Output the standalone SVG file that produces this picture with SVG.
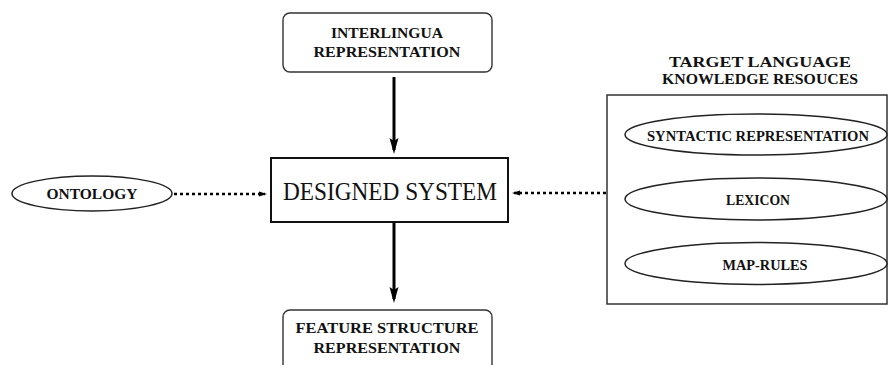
<svg xmlns="http://www.w3.org/2000/svg" width="889" height="365" viewBox="0 0 889 365">
<defs>
<marker id="bigArrow" viewBox="0 0 16 10" markerWidth="16" markerHeight="10" refX="12" refY="5" orient="auto" markerUnits="userSpaceOnUse">
<path d="M0,0.5 L16,5 L0,9.5 L3,5 Z" fill="#000"/>
</marker>
<marker id="smallArrow" viewBox="0 0 8 6" markerWidth="8" markerHeight="6" refX="6" refY="3" orient="auto" markerUnits="userSpaceOnUse">
<path d="M0,0.5 L8,3 L0,5.5 Z" fill="#000"/>
</marker>
<style>
.lbl{font-weight:bold;font-size:15.5px;fill:#111;text-anchor:middle}
.main{font-size:26px;fill:#111;text-anchor:middle}
.rbox{fill:#fff;stroke:#333;stroke-width:1.4}
.ell{fill:#fff;stroke:#222;stroke-width:1.5}
.solid{stroke:#000;stroke-width:3;fill:none;marker-end:url(#bigArrow)}
.dotted{stroke:#000;stroke-width:2.4;stroke-dasharray:3 3;fill:none;marker-end:url(#smallArrow)}
</style>
</defs>
<rect width="889" height="365" fill="#fff"/>
<g id="connectors">
<line class="solid" x1="394" y1="77" x2="394" y2="150"/>
<line class="solid" x1="394" y1="223" x2="394" y2="299"/>
<line class="dotted" x1="174" y1="194" x2="265" y2="194"/>
<line class="dotted" x1="606" y1="193" x2="514" y2="193"/>
</g>
<g font-family="'Liberation Serif', 'DejaVu Serif', serif">
<g id="interlingua">
<rect class="rbox" x="283" y="13" width="209" height="59" rx="7"/>
<text class="lbl" x="387" y="38" textLength="112" lengthAdjust="spacingAndGlyphs">INTERLINGUA</text>
<text class="lbl" x="387" y="57" textLength="147" lengthAdjust="spacingAndGlyphs">REPRESENTATION</text>
</g>
<g id="designed-system">
<rect x="271" y="158" width="237" height="64" fill="#fff" stroke="#111" stroke-width="2"/>
<text class="main" x="390" y="200" textLength="214" lengthAdjust="spacingAndGlyphs">DESIGNED  SYSTEM</text>
</g>
<g id="feature-structure">
<rect class="rbox" x="283" y="310" width="209" height="62" rx="7"/>
<text class="lbl" x="387" y="333" textLength="183" lengthAdjust="spacingAndGlyphs">FEATURE  STRUCTURE</text>
<text class="lbl" x="387" y="353" textLength="147" lengthAdjust="spacingAndGlyphs">REPRESENTATION</text>
</g>
<g id="ontology">
<ellipse class="ell" cx="92" cy="193.5" rx="80" ry="17.5"/>
<text class="lbl" x="92" y="199" textLength="91" lengthAdjust="spacingAndGlyphs">ONTOLOGY</text>
</g>
<g id="target-language">
<text class="lbl" x="760" y="67" textLength="182" lengthAdjust="spacingAndGlyphs">TARGET  LANGUAGE</text>
<text class="lbl" x="760" y="84" textLength="196" lengthAdjust="spacingAndGlyphs">KNOWLEDGE RESOUCES</text>
<rect x="607" y="95" width="280" height="209" fill="#fff" stroke="#333" stroke-width="1.5"/>
</g>
<g id="syntactic">
<ellipse class="ell" cx="756" cy="134.5" rx="131" ry="20.5"/>
<text class="lbl" x="758" y="141" textLength="222" lengthAdjust="spacingAndGlyphs">SYNTACTIC  REPRESENTATION</text>
</g>
<g id="lexicon">
<ellipse class="ell" cx="756" cy="199" rx="131" ry="21"/>
<text class="lbl" x="758" y="205" textLength="64" lengthAdjust="spacingAndGlyphs">LEXICON</text>
</g>
<g id="map-rules">
<ellipse class="ell" cx="756" cy="263.5" rx="131" ry="21"/>
<text class="lbl" x="765" y="270" textLength="85" lengthAdjust="spacingAndGlyphs">MAP-RULES</text>
</g>
</g>
</svg>
